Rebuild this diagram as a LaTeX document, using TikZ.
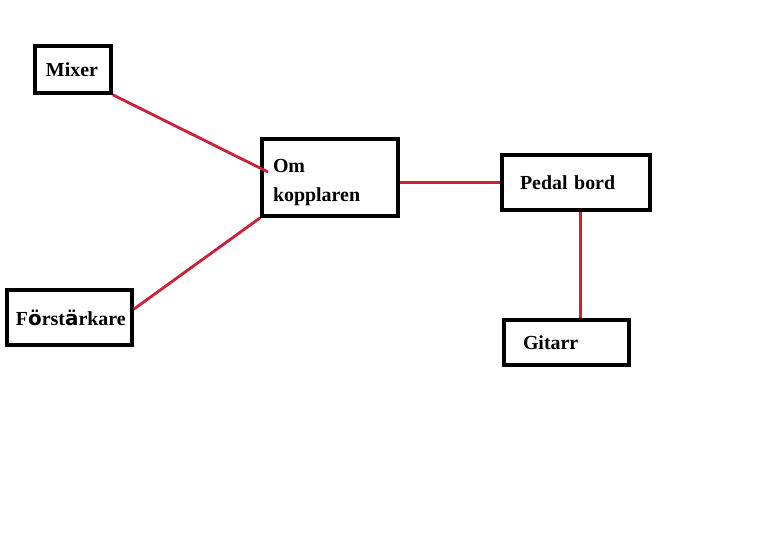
\documentclass[tikz,border=0pt]{standalone}
\usepackage{fontspec}
\setmainfont{Liberation Serif}
\newfontfamily\umlfont{DejaVu Sans}
\definecolor{kabel}{RGB}{204,32,56}
\begin{document}
\begin{tikzpicture}[x=0.03cm, y=-0.03cm,
  font=\bfseries\fontsize{17}{25}\selectfont,
  box/.style={draw, line width=3pt, align=left, inner ysep=0pt, text width=#1},
  kabel/.style={draw=kabel, line width=2.4pt}]
  \useasboundingbox[fill=white] (0,0) rectangle (776,543);
  \node[box=1.62cm, inner xsep=0.33cm, minimum height=1.41cm] (mix) at (73,69.5) {Mixer};
  \node[box=3.42cm, inner xsep=0.33cm, minimum height=2.31cm, text depth=0.72cm] (om) at (330,177.5) {Om\\kopplaren};
  \node[box=3.21cm, inner xsep=0.27cm, minimum height=1.65cm] (forst) at (69.5,317.5) {F{\umlfont ö}rst{\umlfont ä}rkare};
  \node[box=3.36cm, inner xsep=0.54cm, minimum height=1.65cm] (ped) at (576,182.5) {Pedal bord};
  \node[box=2.61cm, inner xsep=0.57cm, minimum height=1.35cm] (git) at (566.5,342.5) {Gitarr};
  \coordinate (omin) at (268,172);
  \draw[kabel] (mix.south east) -- (omin);
  \draw[kabel] ([yshift=0.25cm]forst.east) -- (om.south west);
  \draw[kabel] (om.east |- ped.west) -- (ped.west);
  \draw[kabel] ([xshift=0.13cm]ped.south) -- ([xshift=0.13cm]ped.south |- git.north);
\end{tikzpicture}
\end{document}
